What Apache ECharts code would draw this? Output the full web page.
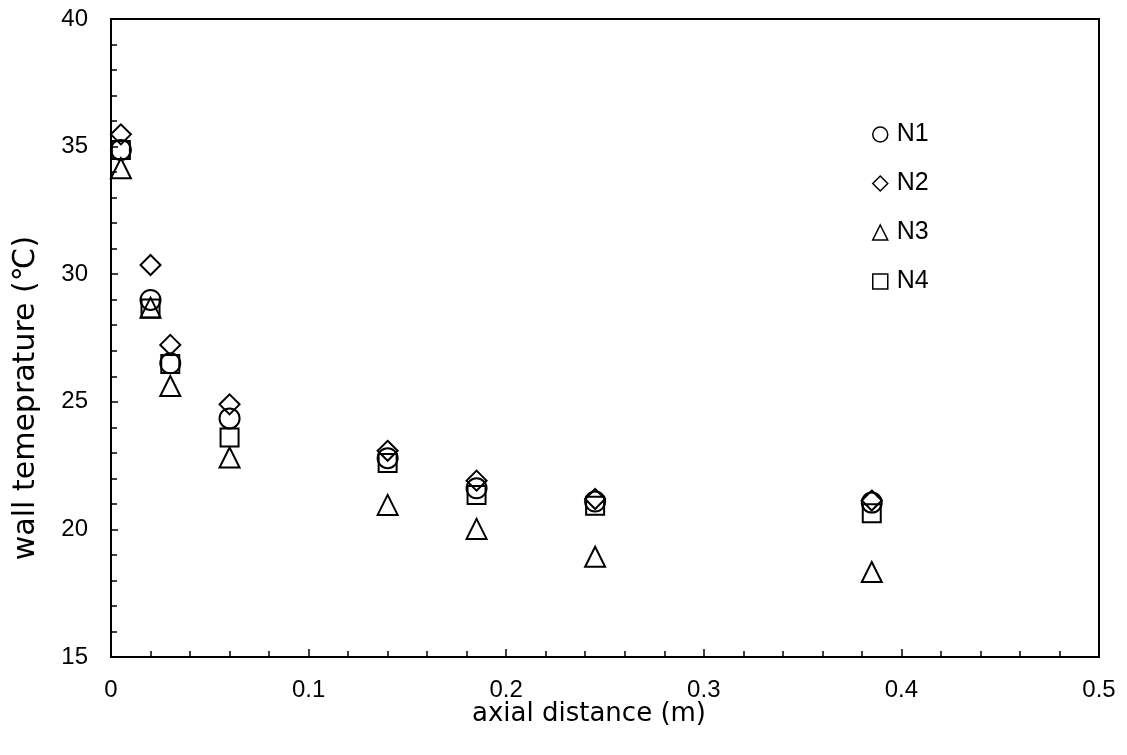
<!DOCTYPE html>
<html lang="en">
<head>
    <meta charset="UTF-8">
    <title>wall temperature</title>
    <script src="https://cdn.jsdelivr.net/npm/echarts@6/dist/echarts.min.js"></script>
    <style>
        html, body { margin: 0; padding: 0; background: #fff; }
        #chart { width: 1127px; height: 755px; }
    </style>
</head>
<body>
<div id="chart"></div>
<script>
    // axial positions (m)
    var distance = [0.005, 0.02, 0.03, 0.06, 0.14, 0.185, 0.245, 0.385];
    // wall temperature per case
    var n1 = [34.87, 28.99, 26.51, 24.35, 22.79, 21.61, 21.09, 21.05];
    var n2 = [35.48, 30.36, 27.23, 24.90, 23.08, 21.91, 21.19, 21.13];
    var n3 = [34.15, 28.69, 25.62, 22.82, 20.96, 20.02, 18.93, 18.33];
    var n4 = [34.87, 28.66, 26.48, 23.60, 22.60, 21.35, 20.93, 20.63];
    var names = ['N1', 'N2', 'N3', 'N4'];
    var symbols = ['circle', 'diamond', 'triangle', 'rect'];

    var chart = echarts.init(document.getElementById('chart'));
    var font = 'Liberation Sans, Arial, sans-serif';
    var titleFont = 'DejaVu Sans, sans-serif';

    function pairs(ys) {
        var out = [];
        for (var i = 0; i < distance.length; i++) {
            out.push([distance[i], ys[i]]);
        }
        return out;
    }

    var series = [n1, n2, n3, n4].map(function (ys, i) {
        return {
            name: names[i],
            type: 'scatter',
            symbol: symbols[i],
            symbolSize: i == 3 ? 18 : 20,
            itemStyle: {
                color: 'rgba(0,0,0,0)',
                borderColor: '#000',
                borderWidth: 2,
                opacity: 1
            },
            data: pairs(ys)
        };
    });

    var option = {
        animation: false,
        grid: {
            left: 111, top: 19, right: 28, bottom: 98,
            show: true,
            borderColor: '#000',
            borderWidth: 2
        },
        legend: {
            orient: 'vertical',
            left: 867,
            top: 117,
            itemWidth: 15,
            itemHeight: 15,
            itemGap: 24,
            textStyle: { fontFamily: font, fontSize: 25, lineHeight: 25, color: '#000', padding: [0, 0, 0, 4] },
            itemStyle: { borderWidth: 1.5, opacity: 1 },
            data: names.map(function (n, i) { return { name: n, icon: symbols[i] }; })
        },
        xAxis: {
            type: 'value',
            min: 0, max: 0.5, interval: 0.1,
            name: 'axial distance (m)',
            nameLocation: 'middle',
            nameGap: 44,
            nameMoveOverlap: false,
            nameTextStyle: { fontFamily: titleFont, fontSize: 26, color: '#000', padding: [0, 32, 0, 0] },
            axisLine: { lineStyle: { color: '#000', width: 2 } },
            axisTick: { inside: true, length: 8, lineStyle: { color: '#000', width: 1.5 } },
            minorTick: { show: true, splitNumber: 5, length: 6, lineStyle: { color: '#000', width: 1.5 } },
            axisLabel: { fontFamily: font, fontSize: 24, color: '#000', margin: 21 },
            splitLine: { show: false }
        },
        yAxis: {
            type: 'value',
            min: 15, max: 40, interval: 5,
            name: 'wall temeprature (℃)',
            nameLocation: 'middle',
            nameGap: 70,
            nameMoveOverlap: false,
            nameTextStyle: { fontFamily: titleFont, fontSize: 30, color: '#000', padding: [0, 120, 0, 0] },
            axisLine: { lineStyle: { color: '#000', width: 2 } },
            axisTick: { inside: true, length: 7, lineStyle: { color: '#000', width: 1.5 } },
            minorTick: { show: true, splitNumber: 5, length: 6, lineStyle: { color: '#000', width: 1.5 } },
            axisLabel: { fontFamily: font, fontSize: 24, color: '#000', margin: 23 },
            splitLine: { show: false }
        },
        series: series
    };

    chart.setOption(option);
</script>
</body>
</html>
